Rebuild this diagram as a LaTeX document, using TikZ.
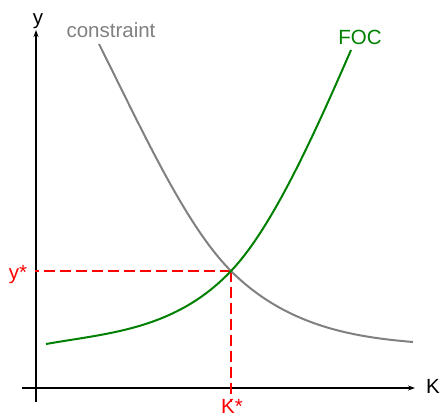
\documentclass[tikz,border=0pt]{standalone}
\usepackage{fontspec}
\setmainfont{Liberation Sans}
\usetikzlibrary{arrows.meta}
\definecolor{cgray}{RGB}{128,128,128}
\definecolor{cgreen}{RGB}{0,128,0}
\definecolor{cred}{RGB}{255,0,0}
\begin{document}
\begin{tikzpicture}[x=1pt,y=-1pt,
  axis/.style={line width=1.5pt,black,-{Stealth[length=7pt,width=5pt]}},
  curve/.style={line width=2pt},
  guide/.style={line width=2pt,cred,dash pattern=on 11pt off 5pt},
  lbl/.style={font=\fontsize{20.5}{20.5}\selectfont,inner sep=0pt}]
\useasboundingbox (0,0) rectangle (441,417);
\coordinate (ybot) at (36,402);
\coordinate (ytop) at (36,30);
\coordinate (xl) at (22,388);
\coordinate (xr) at (415,388);
\draw[axis] (ybot) -- (ytop);
\draw[axis] (xl) -- (xr);
\node[lbl,anchor=base] (ylab) at (38,25) {y};
\node[lbl,anchor=base] (klab) at (433,393) {K};
\coordinate (E) at (231,271);
\coordinate (yl) at (35,271);
\coordinate (kb) at (231,402);
\coordinate (cs) at (99,44);
\coordinate (ce) at (413,342);
\coordinate (fs) at (46,344);
\coordinate (fe) at (351,50);
\draw[guide] (E) -- (yl);
\draw[guide] (E) -- (kb);
\node[lbl,anchor=base,text=cred] (ystar) at (18,279) {y*};
\node[lbl,anchor=base,text=cred] (kstar) at (232,413.5) {K*};
\draw[curve,cgray] (cs) .. controls (144,134) and (186,226) .. (E)
   .. controls (286,326) and (353,337) .. (ce);
\draw[curve,cgreen] (fs) .. controls (108,333) and (175,330) .. (E)
   .. controls (271,229) and (311,142) .. (fe);
\node[lbl,anchor=base,text=cgray] (cons) at (111,38) {constraint};
\node[lbl,anchor=base,text=cgreen] (foc) at (360,45) {FOC};
\end{tikzpicture}
\end{document}
